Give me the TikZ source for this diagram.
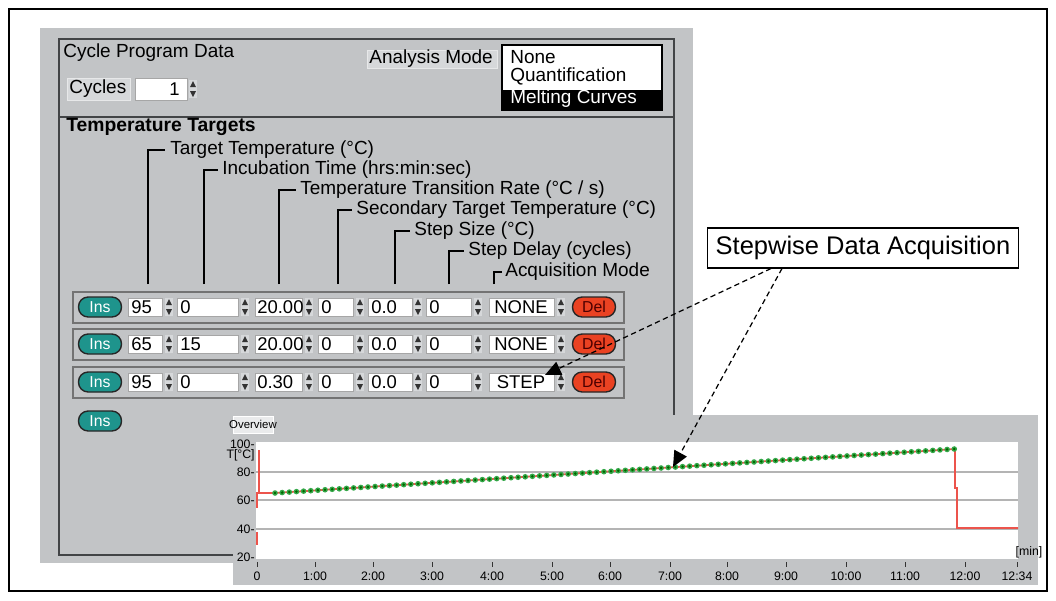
\documentclass[tikz,border=0pt]{standalone}
\usepackage{fontspec}
\setmainfont{Liberation Sans}
\usepackage{tikz}
\usetikzlibrary{arrows.meta,positioning,calc}

\definecolor{panelgray}{RGB}{194,196,198}
\definecolor{raisegray}{RGB}{214,216,218}
\definecolor{framegray}{RGB}{66,68,70}
\definecolor{insteal}{RGB}{30,148,140}
\definecolor{delred}{RGB}{234,66,34}
\definecolor{tracered}{RGB}{236,84,76}
\definecolor{dotgreen}{RGB}{52,168,72}
\definecolor{gridgray}{RGB}{180,180,180}

% up/down spin arrows beside a field
\newcommand{\spinbtn}[2]{%
  \fill[raisegray] (#1-4,#2-9) rectangle (#1+4,#2+9);
  \fill[black!80] (#1-3,#2-2) -- (#1+3,#2-2) -- (#1,#2-8) -- cycle;
  \fill[black!80] (#1-3,#2+2) -- (#1+3,#2+2) -- (#1,#2+8) -- cycle;
}
% one row of the target table: name, y, then the seven values
\newcommand{\tgtrow}[9]{%
  \draw[rowbox] (73,#2-15) rectangle (624,#2+16);
  \node[insbtn] (#1-ins) at (100,#2) {Ins};
  \draw[field] (128,#2-9) rectangle (162,#2+9);
  \node[val] (#1-tmp) at (131,#2) {#3};
  \spinbtn{169}{#2}
  \draw[field] (177,#2-9) rectangle (238,#2+9);
  \node[val] (#1-inc) at (180,#2) {#4};
  \spinbtn{245}{#2}
  \draw[field] (255,#2-9) rectangle (302,#2+9);
  \node[val] (#1-rate) at (257,#2) {#5};
  \spinbtn{309}{#2}
  \draw[field] (318,#2-9) rectangle (353,#2+9);
  \node[val] (#1-sec) at (321,#2) {#6};
  \spinbtn{360}{#2}
  \draw[field] (368,#2-9) rectangle (412,#2+9);
  \node[val] (#1-size) at (371,#2) {#7};
  \spinbtn{418}{#2}
  \draw[field] (426,#2-9) rectangle (471,#2+9);
  \node[val] (#1-dly) at (429,#2) {#8};
  \spinbtn{478}{#2}
  \draw[field] (489,#2-9) rectangle (554,#2+9);
  \node[val,anchor=center] (#1-mode) at (521,#2) {#9};
  \spinbtn{561}{#2}
  \node[delbtn] (#1-del) at (594,#2) {Del};
}

\begin{document}
\begin{tikzpicture}[x=0.02cm,y=-0.02cm,
  ui/.style={font=\fontsize{10.8}{13}\selectfont,inner sep=0pt,anchor=west},
  val/.style={font=\fontsize{10.5}{12}\selectfont,inner sep=0pt,anchor=west},
  field/.style={fill=white,draw=black!35,line width=0.4pt},
  rowbox/.style={fill=panelgray,draw=black!55,line width=0.8pt},
  insbtn/.style={draw=black!85,line width=0.8pt,fill=insteal,rounded corners=5.5pt,
    minimum width=0.86cm,minimum height=0.4cm,inner sep=0pt,text=white,
    font=\fontsize{9}{10}\selectfont},
  delbtn/.style={insbtn,fill=delred,text=black!70!red},
  ticklbl/.style={font=\fontsize{7}{8}\selectfont,inner sep=0pt},
  hint/.style={draw=black,line width=0.7pt,densely dashed,-{Triangle[length=9pt,width=8pt]}},
  callout/.style={draw=black,line width=0.6pt,fill=white,minimum width=6.22cm,
    minimum height=0.8cm,inner sep=0pt,font=\fontsize{14.5}{16}\selectfont}
]
\useasboundingbox (0,0) rectangle (1056,600);
\fill[white] (0,0) rectangle (1056,600);
\draw[black,line width=0.6pt] (9,9) rectangle (1047,591);

% program panel
\fill[panelgray] (40,28) rectangle (693,563);
\draw[framegray,line width=1.2pt] (59,39) rectangle (674,555);
\draw[framegray,line width=1.2pt] (59,117) -- (674,117);
\node[ui] (cpd) at (63,53) {Cycle Program Data};
\draw[raisegray!60!white,fill=raisegray] (67,78) rectangle (130,100);
\node[ui] (cyc) at (69,89) {Cycles};
\draw[field] (135,78) rectangle (187,100);
\node[val,anchor=east] (ncyc) at (180,89) {1};
\spinbtn{193}{89}

\draw[raisegray!60!white,fill=raisegray] (367,50) rectangle (497,68);
\node[ui] (amode) at (369,59) {Analysis Mode};
\draw[black,line width=1pt,fill=white] (502,45) rectangle (662,110);
\fill[black] (503,90) rectangle (661,109);
\node[ui] (mnone) at (510,57) {None};
\node[ui] (mquant) at (510,76) {Quantification};
\node[ui,text=white] (mmelt) at (510,99) {Melting Curves};

\node[ui,font=\fontsize{11}{13}\bfseries] (tt) at (66,127) {Temperature Targets};

% column captions
\draw[line width=0.8pt] (148,284) -- (148,150) -- (165,150);
\node[ui] (c1) at (170,150) {Target Temperature (°C)};
\draw[line width=0.8pt] (204,284) -- (204,170) -- (218,170);
\node[ui] (c2) at (222,170) {Incubation Time (hrs:min:sec)};
\draw[line width=0.8pt] (279,284) -- (279,190) -- (296,190);
\node[ui] (c3) at (300,190) {Temperature Transition Rate (°C / s)};
\draw[line width=0.8pt] (338,284) -- (338,210) -- (352,210);
\node[ui] (c4) at (356,210) {Secondary Target Temperature (°C)};
\draw[line width=0.8pt] (395,284) -- (395,231) -- (410,231);
\node[ui] (c5) at (414,231) {Step Size (°C)};
\draw[line width=0.8pt] (449,284) -- (449,251) -- (464,251);
\node[ui] (c6) at (468,251) {Step Delay (cycles)};
\draw[line width=0.8pt] (494,284) -- (494,272) -- (502,272);
\node[ui] (c7) at (505,272) {Acquisition Mode};

\tgtrow{r1}{307}{95}{0}{20.00}{0}{0.0}{0}{NONE}
\tgtrow{r2}{344}{65}{15}{20.00}{0}{0.0}{0}{NONE}
\tgtrow{r3}{382}{95}{0}{0.30}{0}{0.0}{0}{STEP}
\node[insbtn] (r4-ins) at (100,421) {Ins};

% overview chart
\fill[panelgray] (233,415) rectangle (1038,585);
\draw[white,fill=raisegray!50!white] (233,416) rectangle (273,433);
\node[ticklbl,font=\fontsize{6.5}{7}\selectfont] (ovw) at (253,424) {Overview};
\fill[white] (256,442) rectangle (1018,559);
\foreach \g in {472,500,529}
  \draw[gridgray,line width=0.6pt] (256,\g) -- (1018,\g);
\foreach \v/\yy in {100/444,80/472,60/500,40/529,20/557}
  \node[ticklbl,anchor=east] (y\v) at (255,\yy) {\v-};
\node[ticklbl,anchor=east] (yunit) at (255,455) {T[°C]};
\foreach \t/\xx in {0/257,1:00/315,2:00/373,3:00/432,4:00/492,5:00/552,6:00/610,
    7:00/670,8:00/727,9:00/786,10:00/846,11:00/905,12:00/965,12:34/1017}{
  \draw[black!80,line width=0.5pt] (\xx,562) -- (\xx,567);
  \node[ticklbl] (x\xx) at (\xx,576) {\t};
}
\node[ticklbl] (xunit) at (1029,552) {[min]};

% temperature trace
\draw[tracered,line width=1pt] (257,492) -- (257,508);
\draw[tracered,line width=1pt] (257,532) -- (257,545);
\draw[tracered,line width=1pt] (259,450) -- (259,493) -- (275,493) -- (955,449)
  -- (955,488) -- (957,488) -- (957,528) -- (1018,528);
\foreach \i in {0,...,95}{
  \pgfmathsetmacro\dx{275+\i*7.15}
  \pgfmathsetmacro\dy{493-44*\i/95}
  \fill[dotgreen] (\dx,\dy) circle (1.6pt);
  \fill[black!60!green] (\dx,\dy) circle (0.8pt);
}

% call-out
\node[callout] (swda) at (863,248) {Stepwise Data Acquisition};
\coordinate (steptip) at (545,375);
\coordinate (ramptip) at (673,467);
\draw[hint] ([xshift=1.28cm]swda.south west) -- (steptip);
\draw[hint] ([xshift=1.5cm]swda.south west) -- (ramptip);
\end{tikzpicture}
\end{document}
